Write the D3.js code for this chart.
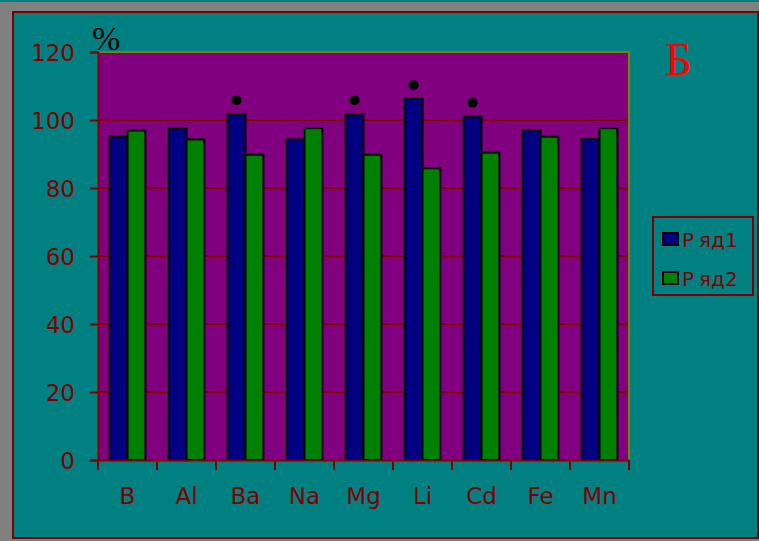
<!DOCTYPE html>
<html>
<head>
<meta charset="utf-8">
<script src="https://cdn.jsdelivr.net/npm/d3@7/dist/d3.min.js"></script>
<style>
  html, body { margin: 0; padding: 0; background: #808080; }
  svg { display: block; }
</style>
</head>
<body>
<svg id="chart" width="759" height="541"></svg>
<script>
// Element recovery, two series (%)
const categories = ["B", "Al", "Ba", "Na", "Mg", "Li", "Cd", "Fe", "Mn"];
const series1 = [95.1, 97.6, 101.7, 94.3, 101.7, 106.2, 101.0, 97.0, 94.4];
const series2 = [96.9, 94.3, 89.8, 97.6, 89.8, 85.8, 90.4, 95.1, 97.6];
const seriesNames = ["Ряд1", "Ряд2"];
const flagged = ["Ba", "Mg", "Li", "Cd"];
const yTicks = [0, 20, 40, 60, 80, 100, 120];

const svg = d3.select("#chart");
const W = 759, H = 541;
const plot = { left: 98, right: 629, top: 52, bottom: 460 };

const darkRed = "#800000";
const colors = ["#000080", "#008000"];
const sans = "DejaVu Sans, Verdana, sans-serif";
const serif = "Liberation Serif, Times New Roman, serif";

// outer frame
svg.append("rect").attr("x", 0).attr("y", 0).attr("width", W).attr("height", 2).attr("fill", "#008080");
svg.append("rect").attr("x", 13).attr("y", 12).attr("width", 745).attr("height", 526)
  .attr("fill", "#008080").attr("stroke", darkRed).attr("stroke-width", 2);

const x0 = d3.scaleBand().domain(categories).range([plot.left, plot.right]).padding(0);
const x1 = d3.scaleBand().domain([0, 1]).range([0, x0.bandwidth()]).paddingInner(0).paddingOuter(0.65);
const y = d3.scaleLinear().domain([0, 120]).range([plot.bottom, plot.top]);

// plot area
svg.append("rect").attr("x", plot.left).attr("y", plot.top)
  .attr("width", plot.right - plot.left).attr("height", plot.bottom - plot.top)
  .attr("fill", "#800080");

// gridlines
svg.append("g").selectAll("line").data(yTicks.filter(t => t > 0 && t < 120)).join("line")
  .attr("x1", plot.left).attr("x2", plot.right)
  .attr("y1", d => y(d)).attr("y2", d => y(d))
  .attr("stroke", darkRed).attr("stroke-width", 2);

// olive top and right edges of plot area
svg.append("path")
  .attr("d", `M${plot.left},${y(120)}H${plot.right}V${plot.bottom}`)
  .attr("fill", "none").attr("stroke", "#808000").attr("stroke-width", 2);

// bars
const rows = categories.map((c, i) => ({ cat: c, vals: [series1[i], series2[i]] }));
const groups = svg.append("g").selectAll("g").data(rows).join("g")
  .attr("transform", d => `translate(${x0(d.cat)},0)`);
groups.selectAll("rect").data(d => d.vals.map((v, k) => ({ v, k }))).join("rect")
  .attr("x", d => x1(d.k)).attr("width", x1.bandwidth())
  .attr("y", d => y(d.v)).attr("height", d => y(0) - y(d.v))
  .attr("fill", d => colors[d.k]).attr("stroke", "#000").attr("stroke-width", 2);

// significance marks above the first series
svg.append("g").selectAll("circle").data(rows.filter(r => flagged.includes(r.cat))).join("circle")
  .attr("cx", d => x0(d.cat) + x1(0) + x1.bandwidth() / 2)
  .attr("cy", d => y(d.vals[0]) - 14)
  .attr("r", 5).attr("fill", "#000");

// y axis
const yAxis = d3.axisLeft(y).tickValues(yTicks).tickSize(8).tickPadding(15).tickFormat(d3.format("d"));
const gy = svg.append("g").attr("transform", `translate(${plot.left},0)`).call(yAxis);
gy.select(".domain").attr("stroke", darkRed).attr("stroke-width", 2);
gy.selectAll(".tick line").attr("stroke", darkRed).attr("stroke-width", 2);
gy.selectAll(".tick text").attr("fill", darkRed)
  .attr("font-family", sans).attr("font-size", 23).attr("dy", "0.36em");

// x axis
const xAxis = d3.axisBottom(x0).tickSize(0).tickPadding(28);
const gx = svg.append("g").attr("transform", `translate(0,${plot.bottom})`).call(xAxis);
gx.select(".domain").attr("stroke", darkRed).attr("stroke-width", 2);
gx.selectAll(".tick text").attr("fill", darkRed)
  .attr("font-family", sans).attr("font-size", 23);
// category boundary ticks
const bounds = categories.map(c => x0(c)).concat([plot.right]);
svg.append("g").selectAll("line").data(bounds).join("line")
  .attr("x1", d => d).attr("x2", d => d)
  .attr("y1", plot.bottom).attr("y2", plot.bottom + 10)
  .attr("stroke", darkRed).attr("stroke-width", 2);

// unit label and panel letter
svg.append("text").attr("x", 92).attr("y", 50).text("%")
  .attr("font-family", serif).attr("font-size", 34).attr("fill", "#000");
svg.append("text").attr("x", 665).attr("y", 75).text("Б")
  .attr("font-family", serif).attr("font-size", 47).attr("fill", "#ff0000");

// legend
const lg = svg.append("g");
lg.append("rect").attr("x", 653).attr("y", 217).attr("width", 100).attr("height", 78)
  .attr("fill", "none").attr("stroke", darkRed).attr("stroke-width", 2);
seriesNames.forEach((name, k) => {
  const cy = 239 + k * 39;
  lg.append("rect").attr("x", 663).attr("y", cy - 6).attr("width", 15).attr("height", 12)
    .attr("fill", colors[k]).attr("stroke", "#000").attr("stroke-width", 2);
  const t = lg.append("text").attr("x", 682).attr("y", cy + 8)
    .attr("font-family", sans).attr("font-size", 20).attr("fill", darkRed);
  t.append("tspan").text(name.slice(0, 1));
  t.append("tspan").attr("dx", 5).text(name.slice(1));
});
</script>
</body>
</html>
